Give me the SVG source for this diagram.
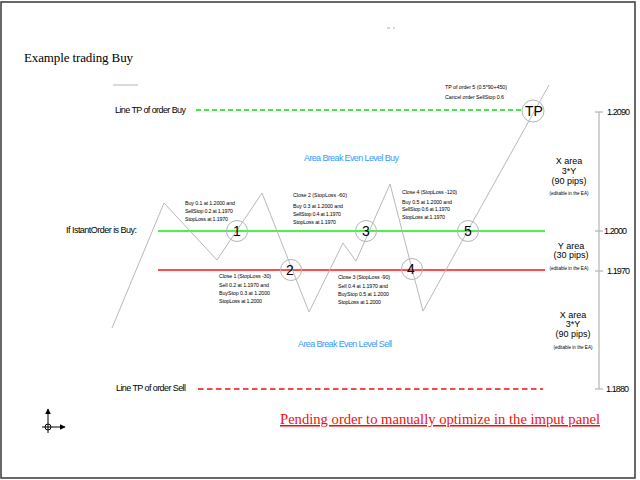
<svg xmlns="http://www.w3.org/2000/svg" width="640" height="480" viewBox="0 0 640 480">
<style>
.sans{font-family:"Liberation Sans",Arial,sans-serif;fill:#000}
.serif{font-family:"Liberation Serif","Times New Roman",serif}
.lbl{font-size:9px}
.sm{font-size:5.3px}
.tiny{font-size:4.6px}
.ax{font-size:9px}
.mid{text-anchor:middle}
.blue{fill:#3399ff;font-size:9px}
.num{font-size:14px;text-anchor:middle}
.circ{fill:none;stroke:#b4b4b4;stroke-width:1}
.zig{fill:none;stroke:#b8b8b8;stroke-width:1}
.gray{stroke:#b4b4b4;stroke-width:1.2}
</style>
<defs>
<marker id="ah" viewBox="0 0 10 10" refX="9" refY="5" markerWidth="6" markerHeight="6" orient="auto" markerUnits="userSpaceOnUse">
<path d="M0,0 L10,5 L0,10 Z" fill="#000"/>
</marker>
</defs>
<rect x="0" y="0" width="640" height="480" fill="#fff"/>
<rect x="1" y="2" width="634" height="476" fill="none" stroke="#444" stroke-width="1.6"/>

<g id="title">
<text class="serif" x="24" y="62" font-size="13" textLength="109" fill="#000">Example trading Buy</text>
<line x1="113" y1="85" x2="138" y2="85" stroke="#b4b4b4" stroke-width="1"/>
<line x1="387" y1="28" x2="390" y2="28" stroke="#ff9090" stroke-width="1"/>
<line x1="393" y1="28" x2="395" y2="28" stroke="#ff9090" stroke-width="1"/>
</g>

<g id="levels">
<line x1="196" y1="110" x2="524" y2="110" stroke="#11dd11" stroke-width="1.3" stroke-dasharray="5 3"/>
<line x1="198" y1="389" x2="543" y2="389" stroke="#ee1111" stroke-width="1.3" stroke-dasharray="5.5 3.5"/>
<line x1="158" y1="231" x2="545" y2="231" stroke="#11ee11" stroke-width="1.6"/>
<line x1="158" y1="270" x2="545" y2="270" stroke="#ff1111" stroke-width="1.6"/>
</g>

<g id="price-path">
<polyline class="zig" points="112,328 164,203 217,260 262,193 309,312 343,243 356,261 390,184 423,311 549,85"/>
</g>

<g id="node-1"><circle class="circ" cx="237" cy="231" r="10.5"/><text class="sans num" x="237" y="236">1</text></g>
<g id="node-2"><circle class="circ" cx="291" cy="270" r="10.5"/><text class="sans num" x="290" y="275">2</text></g>
<g id="node-3"><circle class="circ" cx="366" cy="231" r="10.5"/><text class="sans num" x="366" y="236">3</text></g>
<g id="node-4"><circle class="circ" cx="412" cy="269" r="10.5"/><text class="sans num" x="411" y="274">4</text></g>
<g id="node-5"><circle class="circ" cx="468" cy="231" r="10.5"/><text class="sans num" x="468" y="236">5</text></g>
<g id="node-tp"><circle class="circ" cx="533" cy="111" r="11"/><text class="sans num" x="534" y="116">TP</text></g>

<g id="labels-left">
<text class="sans lbl" x="115" y="113" textLength="71">Line TP of order Buy</text>
<text class="sans lbl" x="116" y="391" textLength="70">Line TP of order Sell</text>
<text class="sans lbl" x="66" y="233" textLength="71">If IstantOrder is Buy:</text>
</g>

<g id="area-labels">
<text class="sans blue" x="304" y="161" textLength="95">Area Break Even Level Buy</text>
<text class="sans blue" x="298" y="347" textLength="94">Area Break Even Level Sell</text>
</g>

<g id="note-a">
<text class="sans sm" x="185" y="205" textLength="50">Buy 0.1 at 1.2000 and</text>
<text class="sans sm" x="185" y="213" textLength="48">SellStop 0.2 at 1.1970</text>
<text class="sans sm" x="185" y="221" textLength="43">StopLoss at 1.1970</text>
</g>
<g id="note-b">
<text class="sans sm" x="293" y="197" textLength="54">Close 2 (StopLoss -60)</text>
<text class="sans sm" x="293" y="208" textLength="50">Buy 0.3 at 1.2000 and</text>
<text class="sans sm" x="293" y="216" textLength="48">SellStop 0.4 at 1.1970</text>
<text class="sans sm" x="293" y="224" textLength="43">StopLoss at 1.1970</text>
</g>
<g id="note-c">
<text class="sans sm" x="402" y="194" textLength="55">Close 4 (StopLoss -120)</text>
<text class="sans sm" x="402" y="204" textLength="50">Buy 0.5 at 1.2000 and</text>
<text class="sans sm" x="402" y="211" textLength="48">SellStop 0.6 at 1.1970</text>
<text class="sans sm" x="402" y="219" textLength="43">StopLoss at 1.1970</text>
</g>
<g id="note-d">
<text class="sans sm" x="219" y="278" textLength="52">Close 1 (StopLoss -30)</text>
<text class="sans sm" x="219" y="287" textLength="50">Sell 0.2 at 1.1970 and</text>
<text class="sans sm" x="219" y="295" textLength="51">BuyStop 0.3 at 1.2000</text>
<text class="sans sm" x="219" y="303" textLength="43">StopLoss at 1.2000</text>
</g>
<g id="note-e">
<text class="sans sm" x="338" y="279" textLength="52">Close 3 (StopLoss -90)</text>
<text class="sans sm" x="338" y="288" textLength="50">Sell 0.4 at 1.1970 and</text>
<text class="sans sm" x="338" y="296" textLength="51">BuyStop 0.5 at 1.2000</text>
<text class="sans sm" x="338" y="304" textLength="43">StopLoss at 1.2000</text>
</g>
<g id="note-tp">
<text class="sans sm" x="445" y="89" textLength="62">TP of order 5 (0.5*90+450)</text>
<text class="sans sm" x="445" y="99" textLength="59">Cancel order SellStop 0.6</text>
</g>

<g id="axis">
<line class="gray" x1="599" y1="112" x2="599" y2="389"/>
<line class="gray" x1="595" y1="112" x2="603" y2="112"/>
<line class="gray" x1="595" y1="231" x2="603" y2="231"/>
<line class="gray" x1="595" y1="271" x2="603" y2="271"/>
<line class="gray" x1="595" y1="389" x2="603" y2="389"/>
<text class="sans ax" x="607" y="115" textLength="23">1.2090</text>
<text class="sans ax" x="604" y="234" textLength="23">1.2000</text>
<text class="sans ax" x="607" y="274" textLength="23">1.1970</text>
<text class="sans ax" x="606" y="392" textLength="23">1.1880</text>
</g>

<g id="x-area-top">
<text class="sans ax mid" x="569" y="164">X area</text>
<text class="sans ax mid" x="569" y="174">3*Y</text>
<text class="sans ax mid" x="569" y="184">(90 pips)</text>
<text class="sans tiny mid" x="569" y="195">(editable in the EA)</text>
</g>
<g id="y-area">
<text class="sans ax mid" x="571" y="249">Y area</text>
<text class="sans ax mid" x="571" y="258">(30 pips)</text>
<text class="sans tiny mid" x="569" y="270">(editable in the EA)</text>
</g>
<g id="x-area-bottom">
<text class="sans ax mid" x="573" y="318">X area</text>
<text class="sans ax mid" x="573" y="327">3*Y</text>
<text class="sans ax mid" x="573" y="337">(90 pips)</text>
<text class="sans tiny mid" x="573" y="349">(editable in the EA)</text>
</g>

<g id="pending-note">
<text class="serif" x="280" y="424" font-size="15.5" fill="#ee1111" text-decoration="underline" textLength="320" lengthAdjust="spacingAndGlyphs">Pending order to manually optimize in the imput panel</text>
</g>

<g id="axes-icon">
<line x1="48" y1="433" x2="48" y2="409" stroke="#000" stroke-width="1" marker-end="url(#ah)"/>
<line x1="42" y1="427" x2="65" y2="427" stroke="#000" stroke-width="1" marker-end="url(#ah)"/>
<circle cx="48" cy="427" r="3" fill="none" stroke="#000" stroke-width="1"/>
</g>
</svg>
